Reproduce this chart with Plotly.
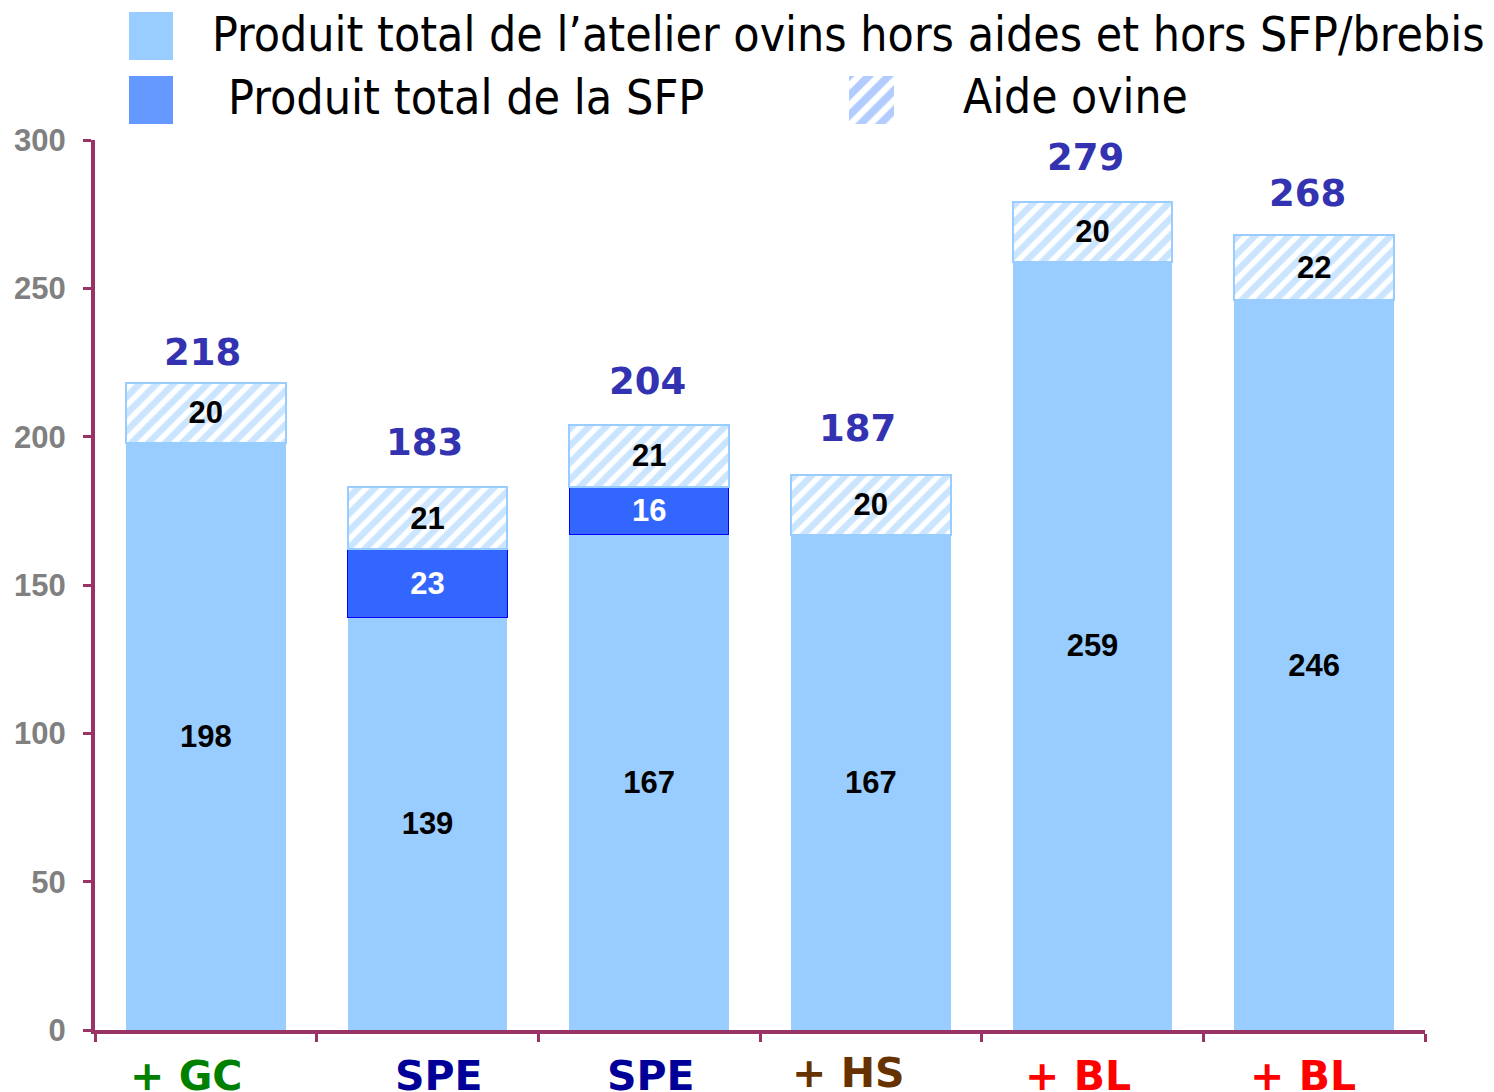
import plotly.graph_objects as go

# ---- data ----
cat_ids = ["c1", "c2", "c3", "c4", "c5", "c6"]
cat_labels = ["+ GC", "SPE", "SPE", "+ HS", "+ BL", "+ BL"]
cat_colors = ["#008000", "#000099", "#000099", "#663300", "#FF0000", "#FF0000"]
produit_atelier = [198, 139, 167, 167, 259, 246]
produit_sfp = [None, 23, 16, None, None, None]
aide_ovine = [20, 21, 21, 20, 20, 22]
totals = [218, 183, 204, 187, 279, 268]

legend_labels = [
    "Produit total de l\u2019atelier ovins hors aides et hors SFP/brebis",
    "Produit total de la SFP",
    "Aide ovine",
]

# ---- layout helpers (screen pixel -> paper); page body adds an 8px offset ----
OFF = 8
W, H = 1494, 1092
L, R, B = 95 - OFF, 1425 - OFF, 1030 - OFF


def px(x):
    return (x - OFF - L) / (R - L)


def py(y):
    return (B - (y - OFF)) / B


fig = go.Figure()

inner_font = dict(family="Liberation Sans, Arial", size=31, weight="bold")
fig.add_trace(go.Bar(
    x=cat_ids, y=produit_atelier,
    marker=dict(color="#99CCFF", line=dict(width=0)),
    text=[str(v) for v in produit_atelier],
    textposition="inside", insidetextanchor="middle", textangle=0,
    textfont=dict(inner_font, color="black"),
    showlegend=False,
))
fig.add_trace(go.Bar(
    x=cat_ids, y=produit_sfp,
    marker=dict(color="#3366FF", line=dict(width=1, color="#0000FF")),
    text=["" if v is None else str(v) for v in produit_sfp],
    textposition="inside", insidetextanchor="middle", textangle=0,
    textfont=dict(inner_font, color="white"),
    showlegend=False,
))
fig.add_trace(go.Bar(
    x=cat_ids, y=aide_ovine,
    marker=dict(color="white", line=dict(width=2, color="#99CCFF"),
                pattern=dict(shape="/", fgcolor="#99CCFF", bgcolor="white",
                             size=12, solidity=0.55)),
    text=[str(v) for v in aide_ovine],
    textposition="inside", insidetextanchor="middle", textangle=0,
    textfont=dict(inner_font, color="black"),
    showlegend=False,
))

# hatch legend swatch on its own little axes
fig.add_trace(go.Bar(
    x=[0], y=[1], width=[1], xaxis="x2", yaxis="y2",
    marker=dict(color="white", line=dict(width=0),
                pattern=dict(shape="/", fgcolor="#6699FF", bgcolor="white",
                             size=14, solidity=0.55)),
    showlegend=False, hoverinfo="skip",
))

axis_col = "#993366"
fig.update_layout(
    width=W, height=H,
    margin=dict(l=L, r=W - R, t=0, b=H - B, autoexpand=False),
    plot_bgcolor="white", paper_bgcolor="white",
    barmode="stack", bargap=0.28,
    showlegend=False,
    xaxis=dict(
        type="category", categoryorder="array", categoryarray=cat_ids,
        range=[-0.5, 5.5], tickson="boundaries", ticks="outside",
        ticklen=8, tickwidth=3, tickcolor=axis_col,
        showline=True, linewidth=4, linecolor=axis_col,
        showticklabels=False, showgrid=False, zeroline=False,
        automargin=False,
    ),
    yaxis=dict(
        domain=[0, py(140)], range=[0, 300], dtick=50,
        ticks="outside", ticklen=8, tickwidth=3, tickcolor=axis_col,
        showline=True, linewidth=4, linecolor=axis_col,
        showgrid=False, zeroline=False, ticklabelstandoff=11,
        automargin=False,
        tickfont=dict(family="Liberation Sans, Arial", size=31, color="#808080", weight="bold"),
    ),
    xaxis2=dict(domain=[px(849), px(894)], range=[-0.5, 0.5], anchor="y2",
                visible=False, fixedrange=True),
    yaxis2=dict(domain=[py(124), py(76)], range=[0, 1], anchor="x2",
                visible=False, fixedrange=True),
)

# totals above bars (label offsets are styling only)
tot_xshift = [-3, -3, -2, -13, -7, -7]
tot_yshift = [7, 21, 20, 23, 21, 18]
for cid, t, xs, ys in zip(cat_ids, totals, tot_xshift, tot_yshift):
    fig.add_annotation(
        x=cid, y=t, xref="x", yref="y", yanchor="bottom", yshift=ys, xshift=xs,
        text=f"<b>{t}</b>", showarrow=False,
        font=dict(family="DejaVu Sans", size=37, color="#3333B2"),
    )

# category labels
shifts = [-20, 11, 2, -23, -15, -11]
yshifts = [-20, -20, -20, -17, -20, -20]
for cid, lab, col, sh, ys in zip(cat_ids, cat_labels, cat_colors, shifts, yshifts):
    fig.add_annotation(
        x=cid, y=0, xref="x", yref="y", yanchor="top", yshift=ys, xshift=sh,
        text=f"<b>{lab}</b>", showarrow=False,
        font=dict(family="DejaVu Sans", size=41, color=col),
    )

# custom legend
fig.add_shape(type="rect", xref="paper", yref="paper",
              x0=px(129), x1=px(173), y0=py(60), y1=py(12),
              fillcolor="#99CCFF", line=dict(width=0))
fig.add_shape(type="rect", xref="paper", yref="paper",
              x0=px(129), x1=px(173), y0=py(124), y1=py(76),
              fillcolor="#6699FF", line=dict(width=0))
leg_family = "DejaVu Sans Condensed, Liberation Sans Narrow, DejaVu Sans"
for txt, x0, yc, fs in [(legend_labels[0], 210, 34, 47.8), (legend_labels[1], 226, 97, 48),
                        (legend_labels[2], 961, 97, 47.5)]:
    fig.add_annotation(x=px(x0), y=py(yc), xref="paper", yref="paper",
                       xanchor="left", yanchor="middle", text=txt,
                       showarrow=False, font=dict(family=leg_family, size=fs, color="black"))

fig.write_html("out.html")
